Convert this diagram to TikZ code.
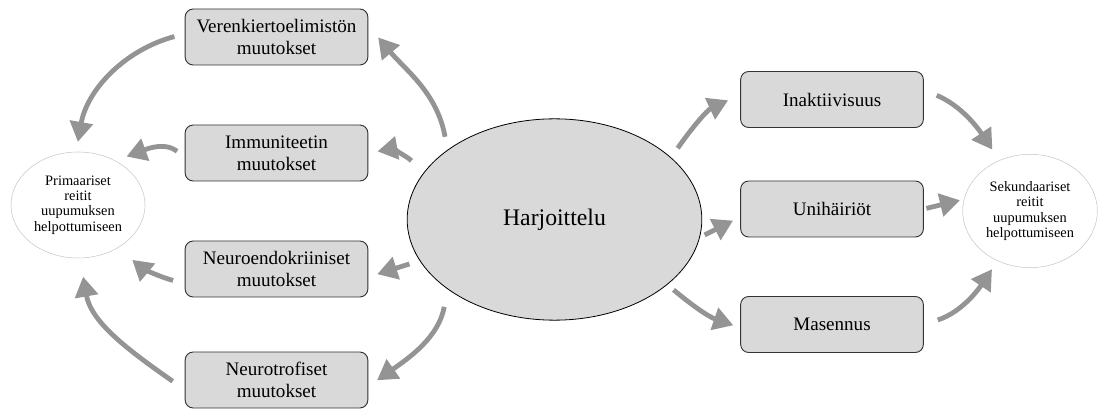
\documentclass[tikz,border=0pt]{standalone}
\usepackage{fontspec}
\setmainfont{Liberation Serif}
\usetikzlibrary{shapes.geometric,arrows.meta}

\begin{document}
\begin{tikzpicture}[x=0.75pt,y=0.75pt,
  effect/.style={draw=black!80,fill=black!15,rounded corners=6pt,line width=0.7pt,
    minimum width=137pt,minimum height=42pt,align=center,
    font=\fontsize{14.3}{16.5}\selectfont},
  route/.style={ellipse,draw=black!22,fill=white,inner sep=0pt,align=center,
    minimum width=100.5pt,minimum height=79.5pt,font=\fontsize{10.8}{11.5}\selectfont},
  flow/.style={draw=black!42,line width=3.6pt,-{Triangle[length=15pt,width=17pt]}}]
\useasboundingbox (0,0) rectangle (1098,410);

\node[ellipse,draw=black,fill=black!15,line width=0.6pt,minimum width=221pt,minimum height=151pt,
  font=\fontsize{17.8}{20}\selectfont] (harj) at (554.5,190.5) {Harjoittelu};
\node[route] (prim) at (78,205) {Primaariset\\reitit\\uupumuksen\\helpottumiseen};
\node[route,minimum width=101pt,minimum height=85pt] (sek) at (1030,199) {Sekundaariset\\reitit\\uupumuksen\\helpottumiseen};

\node[effect] (ver) at (276.5,373) {Verenkiertoelimistön\\muutokset};
\node[effect] (imm) at (276.5,257) {Immuniteetin\\muutokset};
\node[effect] (neuroe) at (276.5,141) {Neuroendokriiniset\\muutokset};
\node[effect] (neurot) at (276.5,30) {Neurotrofiset\\muutokset};
\node[effect] (ina) at (832,310.5) {Inaktiivisuus};
\node[effect] (uni) at (832,201) {Unihäiriöt};
\node[effect] (mas) at (832,85.5) {Masennus};

\draw[flow,shorten <=10pt,shorten >=11.5pt] (harj.147) to[out=100,in=-50] (ver.7);
\draw[flow,shorten <=13pt,shorten >=7pt] (harj.161) to[out=130,in=10] (imm.east);
\draw[flow,shorten <=8pt,shorten >=7pt] (harj.197) -- (neuroe.-5);
\draw[flow,shorten <=13.5pt,shorten >=8pt] (harj.213) to[out=-100,in=35] (neurot.-4);

\draw[flow,shorten <=8pt,shorten >=7.5pt] (ver.178) to[out=195,in=80] (prim.92);
\draw[flow,shorten <=7.5pt,shorten >=9pt] (imm.183) to[out=140,in=20] (prim.50);
\draw[flow,shorten <=9pt,shorten >=14pt] (neuroe.189) to[out=165,in=-40] (prim.-47);
\draw[flow,shorten <=11pt,shorten >=14pt] (neurot.186) to[out=145,in=-80] (prim.-88);

\draw[flow,shorten <=8.5pt,shorten >=10pt] (harj.28) to[out=55,in=205] (ina.177);
\draw[flow,shorten <=4pt,shorten >=6pt] (harj.-7) -- (uni.185);
\draw[flow,shorten <=6pt,shorten >=5.5pt] (harj.-30) to[out=-40,in=161] (mas.182);

\draw[flow,shorten <=10.5pt,shorten >=9.5pt] (ina.6) to[out=-23,in=124] (sek.121);
\draw[flow,shorten <=2pt,shorten >=3pt] (uni.east) -- (sek.170);
\draw[flow,shorten <=11pt,shorten >=7.5pt] (mas.east) to[out=18,in=236] (sek.-123);
\end{tikzpicture}
\end{document}
